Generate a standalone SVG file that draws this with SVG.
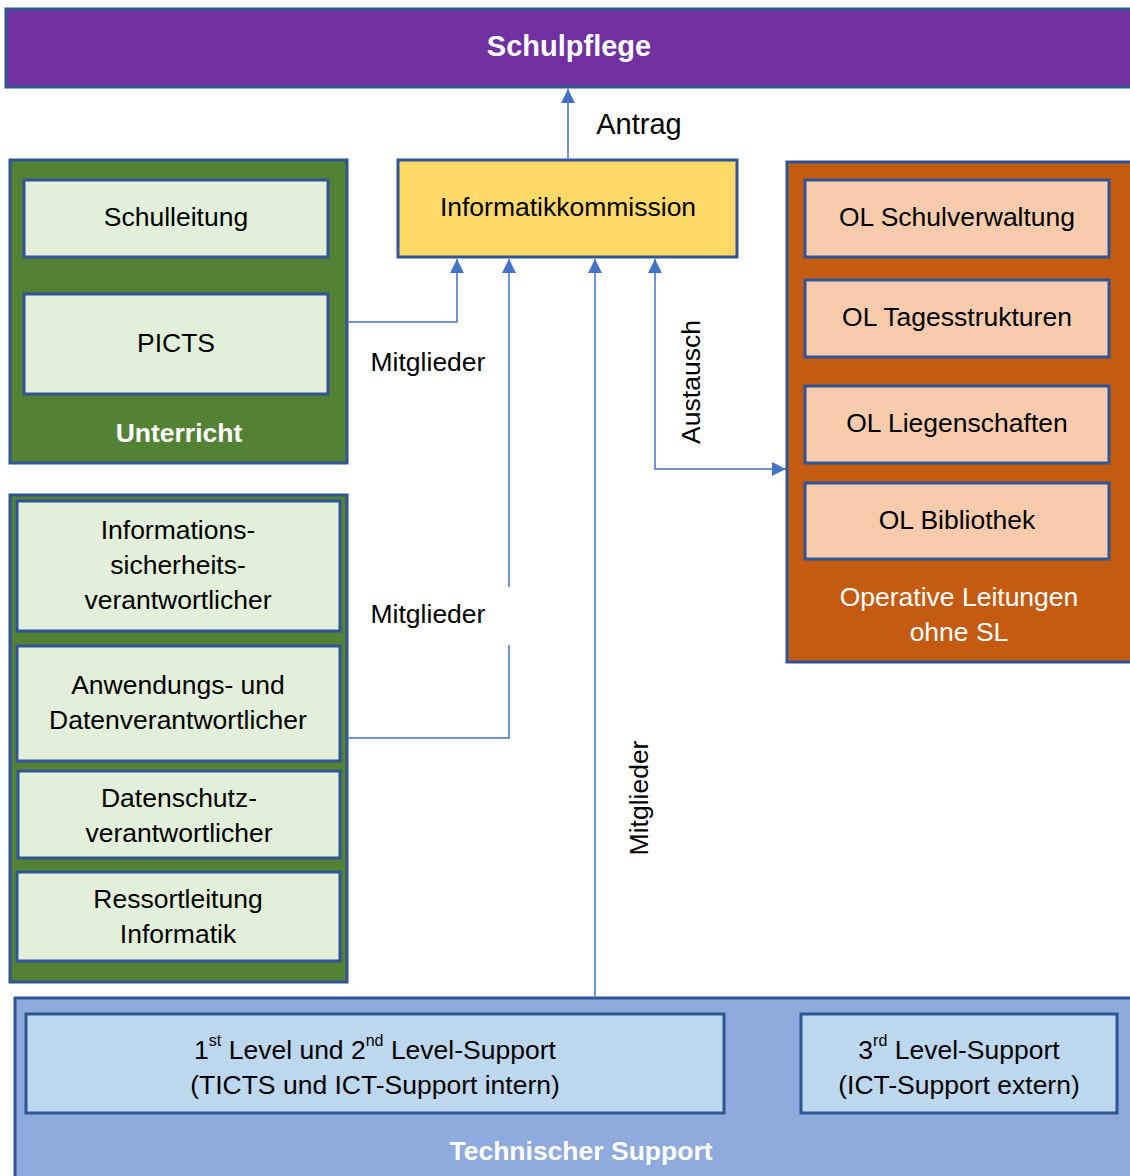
<svg xmlns="http://www.w3.org/2000/svg" width="1130" height="1176" viewBox="0 0 1130 1176">
<style>
text{font-family:"Liberation Sans",Arial,sans-serif;font-size:26.5px;fill:#000;text-anchor:middle}
.w{fill:#fff}
.b{font-weight:bold}
.big{font-size:29px}
.sup{font-size:16px}
.frame{stroke:#2F5597;stroke-width:3}
.conn{stroke:#4472C4;stroke-width:1.5;fill:none}
</style>
<defs>
<marker id="ahb" viewBox="0 0 10 10" refX="10" refY="5" markerWidth="14" markerHeight="14" markerUnits="userSpaceOnUse" orient="auto-start-reverse">
<path d="M0,0 L10,5 L0,10 z" fill="#4472C4"/>
</marker>
</defs>
<rect width="1130" height="1176" fill="#fff"/>

<g id="schulpflege">
<rect class="frame" x="6" y="9" width="1130" height="78" fill="#7030A0"/>
<text class="w b big" x="569" y="56">Schulpflege</text>
</g>

<g id="unterricht">
<rect class="frame" x="10" y="160" width="337" height="303" fill="#548235"/>
<rect class="frame" x="24" y="180" width="304" height="77" fill="#E2EFDA"/>
<text x="176" y="226">Schulleitung</text>
<rect class="frame" x="24" y="294" width="304" height="100" fill="#E2EFDA"/>
<text x="176" y="352">PICTS</text>
<text class="w b" x="179" y="442">Unterricht</text>
</g>

<g id="informatikkommission">
<rect class="frame" x="398" y="160" width="339" height="97" fill="#FFD966"/>
<text x="568" y="216">Informatikkommission</text>
</g>

<g id="operative">
<rect class="frame" x="787" y="162" width="345" height="500" fill="#C55A11"/>
<rect class="frame" x="805" y="180" width="304" height="77" fill="#F8CBAD"/>
<text x="957" y="226">OL Schulverwaltung</text>
<rect class="frame" x="805" y="280" width="304" height="77" fill="#F8CBAD"/>
<text x="957" y="326">OL Tagesstrukturen</text>
<rect class="frame" x="805" y="386" width="304" height="77" fill="#F8CBAD"/>
<text x="957" y="432">OL Liegenschaften</text>
<rect class="frame" x="805" y="483" width="304" height="76" fill="#F8CBAD"/>
<text x="957" y="529">OL Bibliothek</text>
<text class="w" x="959" y="606">Operative Leitungen</text>
<text class="w" x="959" y="641">ohne SL</text>
</g>

<g id="verantwortliche">
<rect class="frame" x="10" y="495" width="337" height="487" fill="#548235"/>
<rect class="frame" x="17" y="501" width="323" height="130" fill="#E2EFDA"/>
<text x="178" y="539">Informations-</text>
<text x="178" y="574">sicherheits-</text>
<text x="178" y="609">verantwortlicher</text>
<rect class="frame" x="17" y="646" width="323" height="115" fill="#E2EFDA"/>
<text x="178" y="694">Anwendungs- und</text>
<text x="178" y="729">Datenverantwortlicher</text>
<rect class="frame" x="18" y="771" width="322" height="87" fill="#E2EFDA"/>
<text x="179" y="807">Datenschutz-</text>
<text x="179" y="842">verantwortlicher</text>
<rect class="frame" x="17" y="872" width="323" height="89" fill="#E2EFDA"/>
<text x="178" y="908">Ressortleitung</text>
<text x="178" y="943">Informatik</text>
</g>

<g id="technischer-support">
<rect class="frame" x="15" y="998" width="1120" height="180" fill="#8FAADC"/>
<rect class="frame" x="26" y="1014" width="698" height="99" fill="#BDD7EE"/>
<text x="375" y="1059">1<tspan class="sup" dy="-13">st</tspan><tspan dy="13"> Level und 2</tspan><tspan class="sup" dy="-13">nd</tspan><tspan dy="13"> Level-Support</tspan></text>
<text x="375" y="1094">(TICTS und ICT-Support intern)</text>
<rect class="frame" x="801" y="1014" width="316" height="99" fill="#BDD7EE"/>
<text x="959" y="1059">3<tspan class="sup" dy="-13">rd</tspan><tspan dy="13"> Level-Support</tspan></text>
<text x="959" y="1094">(ICT-Support extern)</text>
<text class="w b" x="581" y="1160">Technischer Support</text>
</g>

<g id="connectors">
<path class="conn" d="M568,160 V89" marker-end="url(#ahb)"/>
<path class="conn" d="M347,322 H457 V259" marker-end="url(#ahb)"/>
<path class="conn" d="M347,738 H509 V259" marker-end="url(#ahb)"/>
<path class="conn" d="M595,998 V259" marker-end="url(#ahb)"/>
<path class="conn" d="M655,259 V469 H786" marker-start="url(#ahb)" marker-end="url(#ahb)"/>
<rect x="365" y="587" width="146" height="58" fill="#fff"/>
</g>

<g id="labels">
<text class="big" x="639" y="134">Antrag</text>
<text x="428" y="371">Mitglieder</text>
<text x="428" y="623">Mitglieder</text>
<text transform="translate(700,382) rotate(-90)">Austausch</text>
<text transform="translate(648,798) rotate(-90)">Mitglieder</text>
</g>
</svg>
